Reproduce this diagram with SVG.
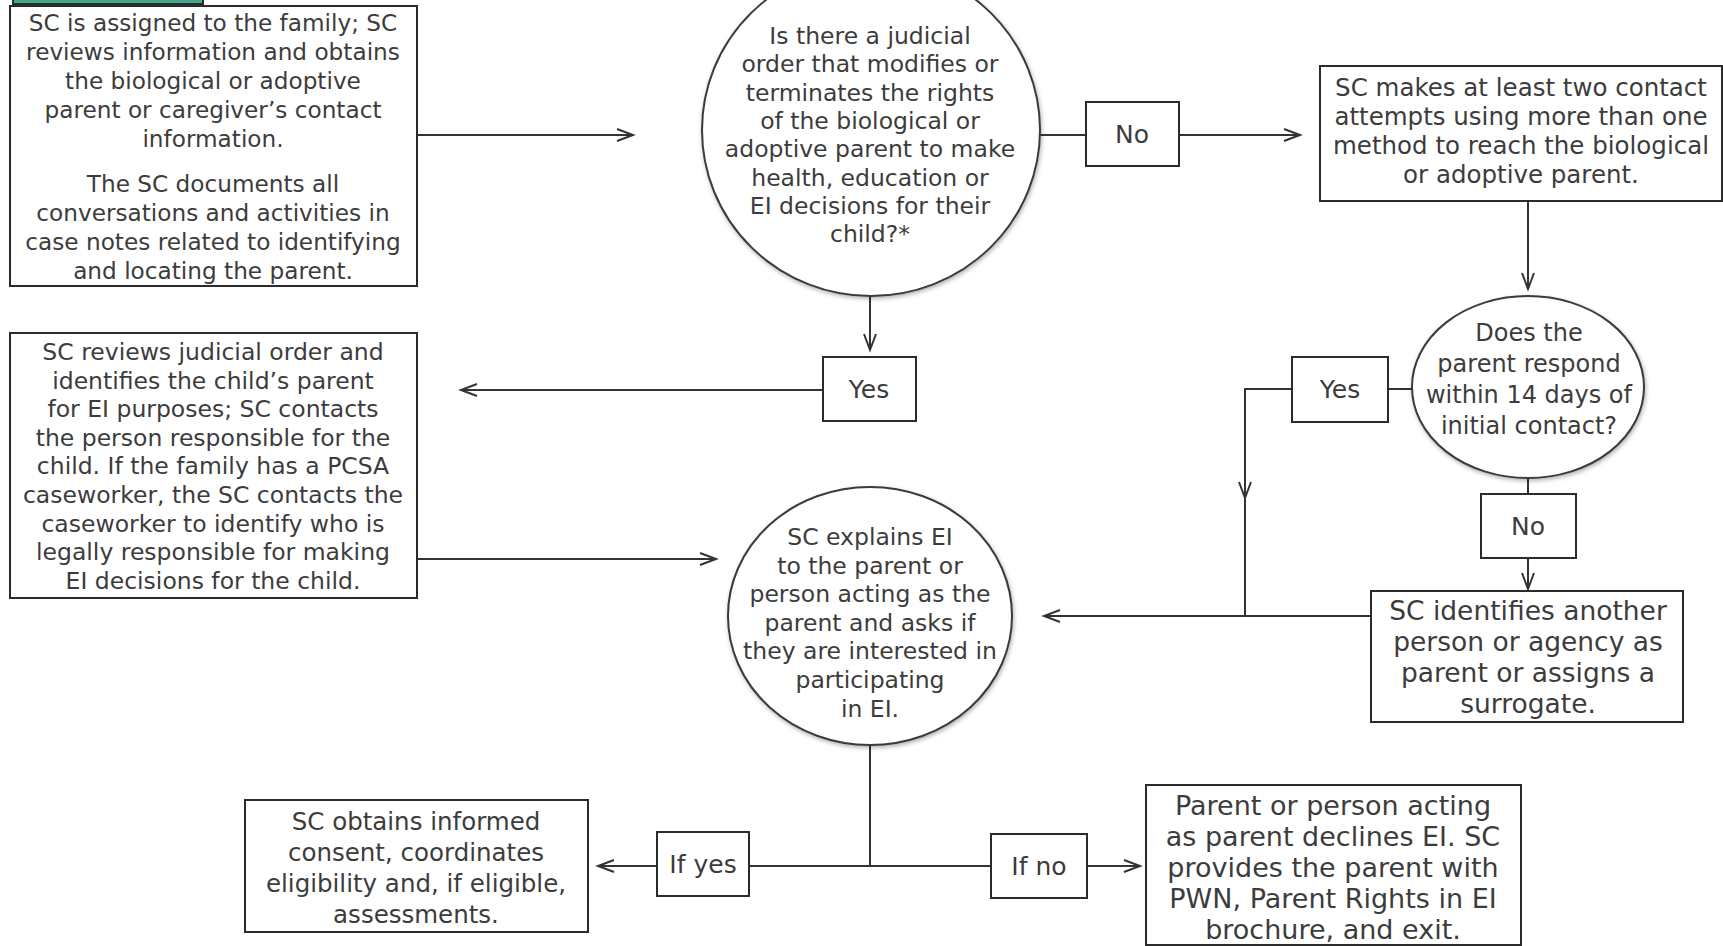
<svg xmlns="http://www.w3.org/2000/svg" width="1723" height="946" viewBox="0 0 1723 946">
<style>
.box{fill:#fff;stroke:#2b2b2b;stroke-width:2}
.circ{fill:#fff;stroke:#3a3a3a;stroke-width:2;filter:url(#sh)}
.t{font-family:"DejaVu Sans","Liberation Sans",sans-serif;fill:#3c3c3c;text-anchor:middle}
.s23{font-size:23.2px}
.s235{font-size:23.5px}
.s24{font-size:24px}
.s245{font-size:24.5px}
.s25{font-size:25px}
.s265{font-size:26.5px}
.s27{font-size:27px}
.ln{fill:none;stroke:#333;stroke-width:2}
.ar{marker-end:url(#ah)}
</style>
<defs>
<marker id="ah" markerUnits="userSpaceOnUse" markerWidth="20" markerHeight="16" refX="17" refY="7" orient="auto">
<path d="M1,1 L17,7 L1,13" fill="none" stroke="#333" stroke-width="2"/>
</marker>
<filter id="sh" x="-10%" y="-10%" width="120%" height="125%">
<feDropShadow dx="1" dy="2" stdDeviation="2" flood-color="#000" flood-opacity="0.3"/>
</filter>
</defs>
<rect width="1723" height="946" fill="#fff"/>

<g id="connectors">
<line class="ln ar" x1="418" y1="135" x2="633" y2="135"/>
<line class="ln" x1="1040" y1="135" x2="1086" y2="135"/>
<line class="ln ar" x1="1179" y1="135" x2="1300" y2="135"/>
<line class="ln ar" x1="1528" y1="201" x2="1528" y2="289"/>
<line class="ln ar" x1="870" y1="296" x2="870" y2="350"/>
<line class="ln ar" x1="823" y1="390" x2="461" y2="390"/>
<line class="ln ar" x1="418" y1="559" x2="716" y2="559"/>
<line class="ln" x1="1412" y1="389" x2="1388" y2="389"/>
<path class="ln ar" d="M1292 389 H1245 V498"/>
<line class="ln" x1="1245" y1="496" x2="1245" y2="616"/>
<line class="ln" x1="1528" y1="478" x2="1528" y2="494"/>
<line class="ln ar" x1="1528" y1="558" x2="1528" y2="589"/>
<line class="ln ar" x1="1371" y1="616" x2="1044" y2="616"/>
<line class="ln" x1="870" y1="745" x2="870" y2="866"/>
<line class="ln" x1="749" y1="866" x2="991" y2="866"/>
<line class="ln ar" x1="657" y1="866" x2="598" y2="866"/>
<line class="ln ar" x1="1087" y1="866" x2="1140" y2="866"/>
</g>

<g id="header-tab">
<rect x="13" y="-20" width="190" height="24" fill="#42a68b" stroke="#2b2b2b" stroke-width="2"/>
</g>

<g id="n-assigned">
<rect class="box" x="10" y="6" width="407" height="280"/>
<text class="t s23"><tspan x="213" y="31">SC is assigned to the family; SC</tspan><tspan x="213" y="60">reviews information and obtains</tspan><tspan x="213" y="89">the biological or adoptive</tspan><tspan x="213" y="118">parent or caregiver’s contact</tspan><tspan x="213" y="147">information.</tspan><tspan x="213" y="192">The SC documents all</tspan><tspan x="213" y="221">conversations and activities in</tspan><tspan x="213" y="250">case notes related to identifying</tspan><tspan x="213" y="279">and locating the parent.</tspan></text>
</g>

<g id="n-judicial">
<ellipse class="circ" cx="871" cy="130" rx="169" ry="166"/>
<text class="t s235"><tspan x="870" y="44">Is there a judicial</tspan><tspan x="870" y="72">order that modifies or</tspan><tspan x="870" y="101">terminates the rights</tspan><tspan x="870" y="129">of the biological or</tspan><tspan x="870" y="157">adoptive parent to make</tspan><tspan x="870" y="186">health, education or</tspan><tspan x="870" y="214">EI decisions for their</tspan><tspan x="870" y="242">child?*</tspan></text>
</g>

<g id="l-no-top">
<rect class="box" x="1086" y="102" width="93" height="64"/>
<text class="t s25" x="1132" y="143">No</text>
</g>

<g id="n-contact">
<rect class="box" x="1320" y="66" width="402" height="135"/>
<text class="t s245"><tspan x="1521" y="96">SC makes at least two contact</tspan><tspan x="1521" y="125">attempts using more than one</tspan><tspan x="1521" y="154">method to reach the biological</tspan><tspan x="1521" y="183">or adoptive parent.</tspan></text>
</g>

<g id="l-yes-center">
<rect class="box" x="823" y="357" width="93" height="64"/>
<text class="t s25" x="869" y="398">Yes</text>
</g>

<g id="n-reviews">
<rect class="box" x="10" y="333" width="407" height="265"/>
<text class="t s235"><tspan x="213" y="360">SC reviews judicial order and</tspan><tspan x="213" y="389">identifies the child’s parent</tspan><tspan x="213" y="417">for EI purposes; SC contacts</tspan><tspan x="213" y="446">the person responsible for the</tspan><tspan x="213" y="474">child. If the family has a PCSA</tspan><tspan x="213" y="503">caseworker, the SC contacts the</tspan><tspan x="213" y="532">caseworker to identify who is</tspan><tspan x="213" y="560">legally responsible for making</tspan><tspan x="213" y="589">EI decisions for the child.</tspan></text>
</g>

<g id="n-respond">
<ellipse class="circ" cx="1528" cy="387" rx="116" ry="91"/>
<text class="t s24"><tspan x="1529" y="341">Does the</tspan><tspan x="1529" y="372">parent respond</tspan><tspan x="1529" y="403">within 14 days of</tspan><tspan x="1529" y="434">initial contact?</tspan></text>
</g>

<g id="l-yes-right">
<rect class="box" x="1292" y="357" width="96" height="65"/>
<text class="t s25" x="1340" y="398">Yes</text>
</g>

<g id="l-no-right">
<rect class="box" x="1481" y="494" width="95" height="64"/>
<text class="t s25" x="1528" y="535">No</text>
</g>

<g id="n-surrogate">
<rect class="box" x="1371" y="591" width="312" height="131"/>
<text class="t s265"><tspan x="1528" y="620">SC identifies another</tspan><tspan x="1528" y="651">person or agency as</tspan><tspan x="1528" y="682">parent or assigns a</tspan><tspan x="1528" y="713">surrogate.</tspan></text>
</g>

<g id="n-explains">
<ellipse class="circ" cx="870" cy="616" rx="142" ry="129"/>
<text class="t s235"><tspan x="870" y="545">SC explains EI</tspan><tspan x="870" y="574">to the parent or</tspan><tspan x="870" y="602">person acting as the</tspan><tspan x="870" y="631">parent and asks if</tspan><tspan x="870" y="659">they are interested in</tspan><tspan x="870" y="688">participating</tspan><tspan x="870" y="717">in EI.</tspan></text>
</g>

<g id="l-if-yes">
<rect class="box" x="657" y="832" width="92" height="64"/>
<text class="t s25" x="703" y="873">If yes</text>
</g>

<g id="l-if-no">
<rect class="box" x="991" y="834" width="96" height="64"/>
<text class="t s25" x="1039" y="875">If no</text>
</g>

<g id="n-consent">
<rect class="box" x="245" y="800" width="343" height="132"/>
<text class="t s245"><tspan x="416" y="830">SC obtains informed</tspan><tspan x="416" y="861">consent, coordinates</tspan><tspan x="416" y="892">eligibility and, if eligible,</tspan><tspan x="416" y="923">assessments.</tspan></text>
</g>

<g id="n-declines">
<rect class="box" x="1146" y="785" width="375" height="160"/>
<text class="t s27"><tspan x="1333" y="815">Parent or person acting</tspan><tspan x="1333" y="846">as parent declines EI. SC</tspan><tspan x="1333" y="877">provides the parent with</tspan><tspan x="1333" y="908">PWN, Parent Rights in EI</tspan><tspan x="1333" y="939">brochure, and exit.</tspan></text>
</g>
</svg>
